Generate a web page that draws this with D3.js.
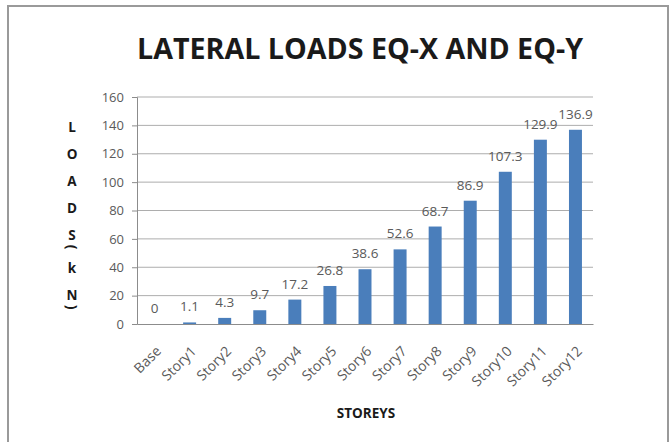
<!DOCTYPE html>
<html>
<head>
<meta charset="utf-8">
<script src="https://cdn.jsdelivr.net/npm/d3@7"></script>
<style>
  html, body { margin: 0; padding: 0; background: #ffffff; }
  svg { display: block; }
  text { font-family: "Open Sans", "Liberation Sans", sans-serif; }
</style>
</head>
<body>
<div id="chart"></div>
<script>
// Storey-wise lateral loads (kN)
const storeys = ["Base", "Story1", "Story2", "Story3", "Story4", "Story5", "Story6",
                 "Story7", "Story8", "Story9", "Story10", "Story11", "Story12"];
const loads = [0, 1.1, 4.3, 9.7, 17.2, 26.8, 38.6, 52.6, 68.7, 86.9, 107.3, 129.9, 136.9];
const yTicks = [0, 20, 40, 60, 80, 100, 120, 140, 160];
const titleText = "LATERAL LOADS EQ-X AND EQ-Y";
const xTitle = "STOREYS";
const yTitle = "LOADS(kN)";

const W = 670, H = 442;
const margin = { left: 137, right: 77, top: 97, bottom: 118 };

const svg = d3.select("#chart").append("svg")
  .attr("width", W).attr("height", H);

// chart frame
svg.append("rect")
  .attr("x", 8).attr("y", 6).attr("width", 660).attr("height", 450)
  .attr("fill", "#ffffff").attr("stroke", "#9a9a9a").attr("stroke-width", 2);

const x = d3.scaleBand()
  .domain(storeys)
  .range([margin.left, W - margin.right])
  .paddingInner(0.63).paddingOuter(0.315);

const y = d3.scaleLinear()
  .domain([0, 160])
  .range([H - margin.bottom, margin.top]);

// horizontal gridlines
svg.append("g")
  .selectAll("line")
  .data(yTicks.filter(d => d > 0))
  .join("line")
  .attr("x1", margin.left).attr("x2", W - margin.right)
  .attr("y1", d => y(d)).attr("y2", d => y(d))
  .attr("stroke", "#adadad").attr("stroke-width", 1);

// y axis
const yAxis = svg.append("g")
  .attr("transform", `translate(${margin.left},0)`)
  .call(d3.axisLeft(y).tickValues(yTicks).tickSize(5).tickPadding(8));
yAxis.select(".domain").attr("stroke", "#8c8c8c");
yAxis.selectAll(".tick line").attr("stroke", "#8c8c8c");
yAxis.selectAll(".tick text")
  .attr("fill", "#5a5a5a").style("font-size", "13px");

// x axis
const xAxis = svg.append("g")
  .attr("transform", `translate(0,${y(0)})`)
  .call(d3.axisBottom(x).tickSize(0).tickPadding(0));
xAxis.select(".domain").attr("stroke", "#8c8c8c");
xAxis.selectAll(".tick text")
  .attr("fill", "#5a5a5a")
  .style("font-size", "14px")
  .attr("text-anchor", "end")
  .attr("dy", 0)
  .attr("transform", `translate(${x.bandwidth() / 2 + 1},${28}) rotate(-45)`);

// bars
svg.append("g")
  .selectAll("rect")
  .data(loads)
  .join("rect")
  .attr("x", (d, i) => x(storeys[i]))
  .attr("width", x.bandwidth())
  .attr("y", d => y(d))
  .attr("height", d => y(0) - y(d))
  .attr("fill", "#4a7ebb");

// value labels
svg.append("g")
  .selectAll("text")
  .data(loads)
  .join("text")
  .attr("x", (d, i) => x(storeys[i]) + x.bandwidth() / 2)
  .attr("y", d => y(d) - 11)
  .attr("text-anchor", "middle")
  .attr("fill", "#5a5a5a")
  .style("font-size", "13.5px")
  .text(d => d);

// chart title
svg.append("text")
  .attr("x", 360).attr("y", 59)
  .attr("text-anchor", "middle")
  .attr("fill", "#1a1a1a")
  .style("font-size", "29px").style("font-weight", "bold")
  .attr("textLength", 446).attr("lengthAdjust", "spacingAndGlyphs")
  .text(titleText);

// x axis title
svg.append("text")
  .attr("x", 366).attr("y", 418)
  .attr("text-anchor", "middle")
  .attr("fill", "#1a1a1a")
  .style("font-size", "13.5px").style("font-weight", "bold")
  .text(xTitle);

// y axis title, one character per row; brackets are turned a quarter turn
const yTitleG = svg.append("g").attr("transform", "translate(72,0)");
let cy = 127;
yTitle.split("").forEach(ch => {
  const isBracket = ch === "(" || ch === ")";
  if (isBracket) {
    cy -= 15;
    yTitleG.append("text")
      .attr("transform", `translate(-1,${cy}) rotate(90)`)
      .attr("text-anchor", "middle")
      .attr("dy", "0.32em")
      .attr("fill", "#1a1a1a")
      .style("font-size", "14px").style("font-weight", "bold")
      .text(ch);
    cy += 21;
  } else {
    yTitleG.append("text")
      .attr("y", cy).attr("dy", "0.35em")
      .attr("text-anchor", "middle")
      .attr("fill", "#1a1a1a")
      .style("font-size", "13.5px").style("font-weight", "bold")
      .text(ch);
    cy += 27;
  }
});
</script>
</body>
</html>
